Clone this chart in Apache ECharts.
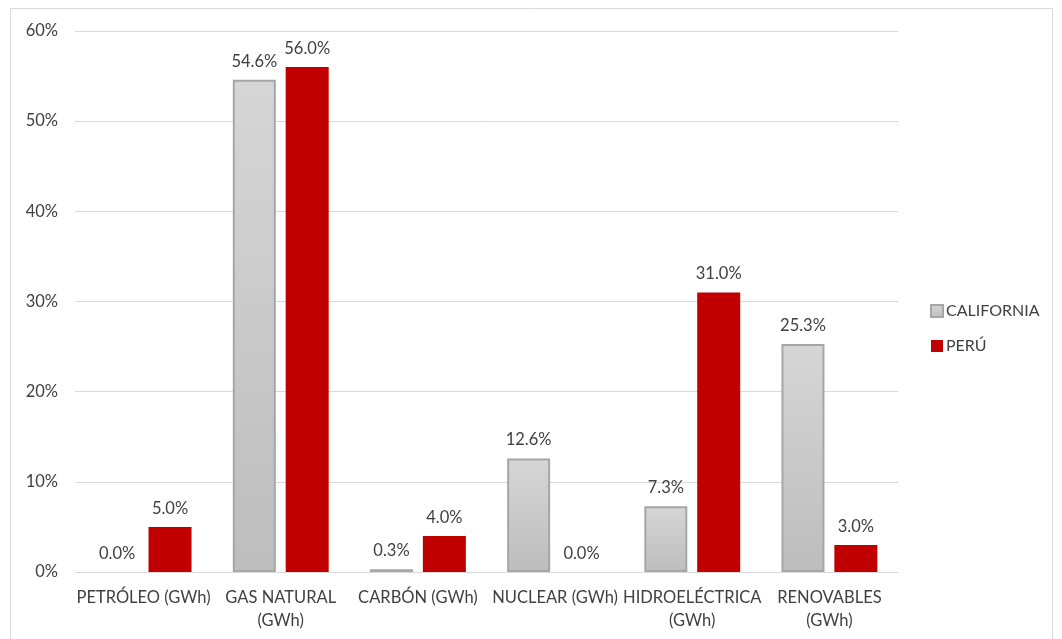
<!DOCTYPE html>
<html>
<head>
<meta charset="utf-8">
<script src="https://cdn.jsdelivr.net/npm/echarts@6/dist/echarts.min.js"></script>
<style>
  html, body { margin: 0; padding: 0; background: #fff; }
  #chart { width: 1062px; height: 639px; }
</style>
</head>
<body>
<div id="chart"></div>
<script>
// categorías (eje x)
var categories = ['PETRÓLEO (GWh)', 'GAS NATURAL\n(GWh)', 'CARBÓN (GWh)', 'NUCLEAR (GWh)', 'HIDROELÉCTRICA\n(GWh)', 'RENOVABLES\n(GWh)']
// porcentajes
var california = [0.0, 54.6, 0.3, 12.6, 7.3, 25.3]
var peru = [5.0, 56.0, 4.0, 0.0, 31.0, 3.0]
var yTicks = [0, 10, 20, 30, 40, 50, 60]

var font = 'Lato, "Open Sans", sans-serif'
var textColor = '#404040'
var fs = 16.5

var myChart = echarts.init(document.getElementById('chart'))

function pct(p) { return p.value.toFixed(1) + '%' }

// sin borde cuando el valor es 0
var californiaData = california.map(function (v) {
  return v === 0 ? { value: v, itemStyle: { borderWidth: 0 } } : v
})

var option = {
  animation: false,
  textStyle: { fontFamily: font },
  graphic: [{
    type: 'rect',
    shape: { x: 10.5, y: 8.5, width: 1042, height: 640 },
    style: { fill: 'none', stroke: '#d9d9d9', lineWidth: 1 },
    silent: true
  }],
  grid: {
    left: 75,
    right: 164,
    top: 31,
    bottom: 67
  },
  legend: {
    orient: 'vertical',
    left: 925,
    top: 298,
    itemWidth: 12,
    itemHeight: 12,
    itemGap: 19,
    icon: 'rect',
    textStyle: { fontFamily: font, fontSize: 16, color: textColor, padding: [0, 0, 0, -2] },
    data: ['CALIFORNIA', 'PERÚ']
  },
  xAxis: {
    type: 'category',
    data: categories,
    axisLine: { lineStyle: { color: '#d9d9d9' } },
    axisTick: { show: false },
    axisLabel: {
      interval: 0,
      color: textColor,
      fontFamily: font,
      fontSize: fs,
      margin: 14,
      lineHeight: 23
    }
  },
  yAxis: {
    type: 'value',
    min: yTicks[0],
    max: yTicks[yTicks.length - 1],
    interval: 10,
    axisLine: { show: false },
    axisTick: { show: false },
    splitLine: { lineStyle: { color: '#d9d9d9' } },
    axisLabel: {
      color: textColor,
      fontFamily: font,
      fontSize: fs,
      margin: 17,
      formatter: '{value}%'
    }
  },
  series: [
    {
      name: 'CALIFORNIA',
      type: 'bar',
      data: californiaData,
      barWidth: 43,
      barGap: '23%',
      itemStyle: {
        color: {
          type: 'linear',
          x: 0, y: 0, x2: 0, y2: 1,
          colorStops: [
            { offset: 0, color: '#d6d6d6' },
            { offset: 1, color: '#bdbdbd' }
          ]
        },
        borderColor: '#a6a6a6',
        borderWidth: 2
      },
      label: {
        show: true,
        position: 'top',
        distance: 10,
        color: textColor,
        fontFamily: font,
        fontSize: fs,
        formatter: pct
      }
    },
    {
      name: 'PERÚ',
      type: 'bar',
      data: peru,
      barWidth: 43,
      itemStyle: { color: '#c00000' },
      label: {
        show: true,
        position: 'top',
        distance: 10,
        color: textColor,
        fontFamily: font,
        fontSize: fs,
        formatter: pct
      }
    }
  ]
}

myChart.setOption(option)
</script>
</body>
</html>
